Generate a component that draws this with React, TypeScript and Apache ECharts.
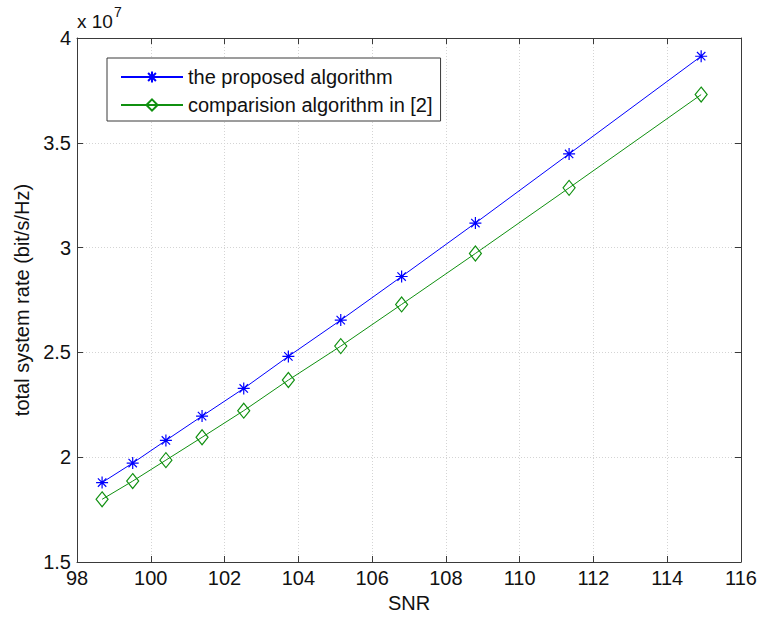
import React, { useEffect, useRef } from "react";
import * as echarts from "echarts";

// SNR values (x axis)
const snr = [98.68, 99.51, 100.41, 101.39, 102.52, 103.73, 105.15, 106.8, 108.8, 111.34, 114.92];
// total system rate, in units of 1e7 bit/s/Hz
const proposed = [1.879, 1.972, 2.08, 2.196, 2.328, 2.481, 2.654, 2.862, 3.117, 3.447, 3.913];
const comparison = [1.799, 1.886, 1.986, 2.095, 2.222, 2.368, 2.53, 2.729, 2.972, 3.285, 3.73];
const seriesNames = ["the proposed algorithm", "comparision algorithm in [2]"];
const xTicks = { min: 98, max: 116, interval: 2 };
const yTicks = { min: 1.5, max: 4, interval: 0.5 };

const FONT = "'Liberation Sans', Arial, sans-serif";
const BLUE = "#0000ff";
const GREEN = "#109010";
const AXIS = "#3a3a3a";

const asterisk = "path://M5,0L5,10M0,5L10,5M1.5,1.5L8.5,8.5M8.5,1.5L1.5,8.5";

export default function App() {
  const ref = useRef<HTMLDivElement>(null);
  useEffect(() => {
    if (!ref.current) return;
    const chart = echarts.init(ref.current, undefined, { renderer: "svg" });
    const pair = (ys: number[]) => snr.map((x, i) => [x, ys[i]]);
    const gridLine = { show: true, lineStyle: { color: "#d4d4d4", type: [1, 2] as any, width: 1 } };
    const labelStyle = { color: "#111", fontSize: 20, fontFamily: FONT };
    chart.setOption({
      animation: false,
      backgroundColor: "#fff",
      grid: { left: 77, right: 19, top: 38, bottom: 55, containLabel: false },
      xAxis: [
        {
          type: "value",
          ...xTicks,
          position: "bottom",
          name: "SNR",
          nameLocation: "middle",
          nameGap: 31,
          nameTextStyle: labelStyle,
          axisLine: { show: true, onZero: false, lineStyle: { color: AXIS, width: 1 } },
          axisTick: { show: true, inside: true, length: 6, lineStyle: { color: AXIS } },
          axisLabel: { ...labelStyle, margin: 6 },
          splitLine: gridLine,
        },
        {
          type: "value",
          ...xTicks,
          position: "top",
          axisLine: { show: true, onZero: false, lineStyle: { color: AXIS, width: 1 } },
          axisTick: { show: true, inside: true, length: 6, lineStyle: { color: AXIS } },
          axisLabel: { show: false },
          splitLine: { show: false },
        },
      ],
      yAxis: [
        {
          type: "value",
          ...yTicks,
          position: "left",
          name: "total system rate (bit/s/Hz)",
          nameLocation: "middle",
          nameGap: 43,
          nameTextStyle: labelStyle,
          axisLine: { show: true, onZero: false, lineStyle: { color: AXIS, width: 1 } },
          axisTick: { show: true, inside: true, length: 6, lineStyle: { color: AXIS } },
          axisLabel: { ...labelStyle, margin: 6 },
          splitLine: gridLine,
        },
        {
          type: "value",
          ...yTicks,
          position: "right",
          axisLine: { show: true, onZero: false, lineStyle: { color: AXIS, width: 1 } },
          axisTick: { show: true, inside: true, length: 6, lineStyle: { color: AXIS } },
          axisLabel: { show: false },
          splitLine: { show: false },
        },
      ],
      legend: {
        orient: "vertical",
        left: 107,
        top: 58,
        padding: [9, 8, 6, 13],
        itemWidth: 62,
        itemHeight: 14,
        itemGap: 8,
        backgroundColor: "#fff",
        borderColor: AXIS,
        borderWidth: 1,
        borderRadius: 0,
        textStyle: { ...labelStyle, fontSize: 20 },
        data: seriesNames,
      },
      series: [
        {
          name: seriesNames[0],
          type: "line",
          data: pair(proposed),
          symbol: asterisk,
          symbolSize: 12,
          showAllSymbol: true,
          lineStyle: { color: BLUE, width: 1 },
          itemStyle: { color: "rgba(0,0,0,0)", borderColor: BLUE, borderWidth: 1.2 },
          emphasis: { disabled: true },
        },
        {
          name: seriesNames[1],
          type: "line",
          data: pair(comparison),
          symbol: "diamond",
          symbolSize: [12, 15],
          showAllSymbol: true,
          lineStyle: { color: GREEN, width: 1 },
          itemStyle: { color: "rgba(0,0,0,0)", borderColor: GREEN, borderWidth: 1.2 },
          emphasis: { disabled: true },
        },
      ],
      graphic: [
        {
          type: "text",
          left: 77,
          top: 12,
          style: { text: "x 10", fontSize: 19, fontFamily: FONT, fill: "#111" },
        },
        {
          type: "text",
          left: 114,
          top: 5,
          style: { text: "7", fontSize: 14, fontFamily: FONT, fill: "#111" },
        },
      ],
    });
    return () => chart.dispose();
  }, []);
  return <div ref={ref} style={{ width: 760, height: 618, position: "absolute", left: 0, top: 0 }} />;
}
